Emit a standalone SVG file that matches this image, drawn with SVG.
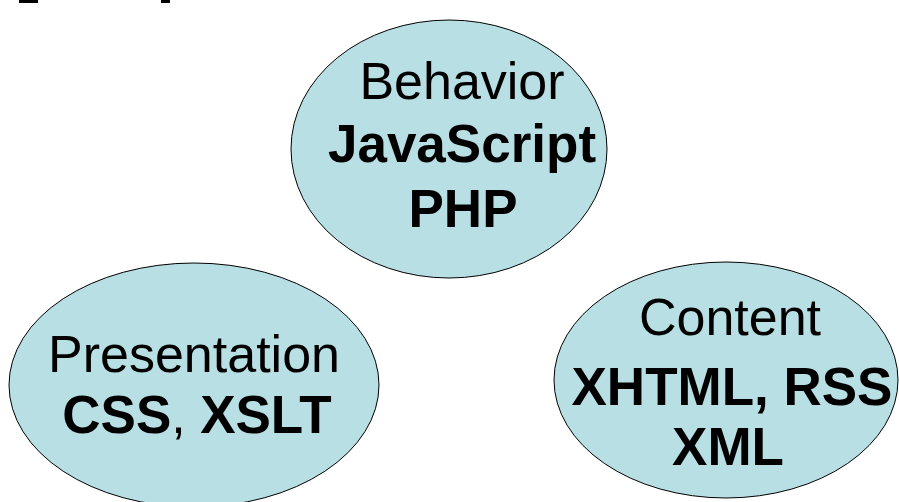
<svg xmlns="http://www.w3.org/2000/svg" width="899" height="502" viewBox="0 0 899 502">
  <style>
    .bubble { fill: #b8dfe3; stroke: #000; stroke-width: 1; }
    .t { font-family: "Liberation Sans", Arial, sans-serif; font-size: 52px; fill: #000; text-anchor: middle; }
    .b { font-weight: bold; font-size: 53px; }
  </style>
  <rect width="899" height="502" fill="#fff"/>
  <!-- clipped heading fragments along the top edge -->
  <rect x="19" y="0" width="19" height="3" fill="#000"/>
  <rect x="161" y="0" width="9" height="3" fill="#000"/>
  <g id="connectors"></g>
  <g id="behavior">
    <ellipse class="bubble" cx="449" cy="149" rx="158" ry="129"/>
    <text class="t" x="462" y="99">Behavior</text>
    <text class="t b" x="462" y="162">JavaScript</text>
    <text class="t b" x="463" y="227">PHP</text>
  </g>
  <g id="presentation">
    <ellipse class="bubble" cx="194" cy="385" rx="185" ry="122"/>
    <text class="t" x="194" y="372">Presentation</text>
    <text class="t" x="197" y="433"><tspan class="b">CSS</tspan>, <tspan class="b">XSLT</tspan></text>
  </g>
  <g id="content">
    <ellipse class="bubble" cx="726" cy="380" rx="172" ry="118"/>
    <text class="t" x="730" y="335">Content</text>
    <text class="t b" x="732" y="405">XHTML, RSS</text>
    <text class="t b" x="728" y="465">XML</text>
  </g>
</svg>
